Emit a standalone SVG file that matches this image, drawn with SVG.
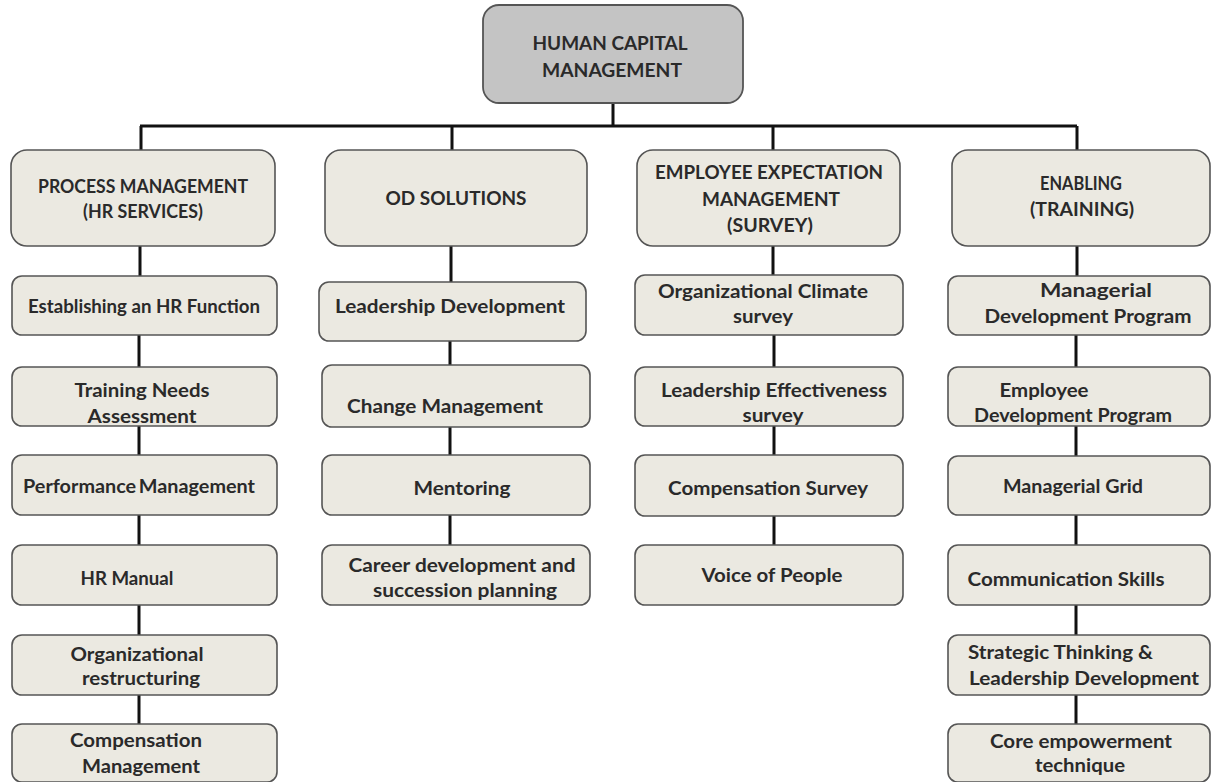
<svg xmlns="http://www.w3.org/2000/svg" width="1211" height="782" viewBox="0 0 1211 782">
<style>
.bg{fill:#ffffff}
.box{fill:#ebe9e1;stroke:#555555;stroke-width:1.6}
.top{fill:#c4c4c4;stroke:#555555;stroke-width:1.8}
.ln{stroke:#111111;stroke-width:3;fill:none}
text{font-family:Lato,"Open Sans","Liberation Sans",sans-serif;font-weight:bold;font-size:18px;fill:#2a2a2a;text-anchor:middle}
.st{text-anchor:start}
</style>
<rect class="bg" width="1211" height="782"/>
<g id="connectors">
<path class="ln" d="M613 103V126M140 126H1077M141 126V150M452 126V150M773 126V150M1077 126V150"/>
<path class="ln" d="M140 246V276M139 335V367M139 426V455M139 515V545M139 605V635M139 695V724"/>
<path class="ln" d="M451 246V282M450 341V365M450 427V455M450 515V545"/>
<path class="ln" d="M773 246V275M774 335V367M774 426V455M774 516V545"/>
<path class="ln" d="M1077 246V276M1076 335V367M1076 426V456M1076 515V545M1076 605V635M1076 695V724"/>
</g>
<g id="hcm"><rect class="top" x="483" y="5" width="260" height="98" rx="16"/><text x="610" y="50" textLength="155" lengthAdjust="spacingAndGlyphs">HUMAN CAPITAL</text><text x="612" y="77" textLength="140" lengthAdjust="spacingAndGlyphs">MANAGEMENT</text></g>

<g id="process"><rect class="box" x="11" y="150" width="264" height="96" rx="16"/><text x="143" y="193" textLength="210" lengthAdjust="spacingAndGlyphs">PROCESS MANAGEMENT</text><text x="143" y="218" textLength="120" lengthAdjust="spacingAndGlyphs">(HR SERVICES)</text></g>
<g id="p1"><rect class="box" x="12" y="276" width="265" height="59" rx="10"/><text x="144" y="313" textLength="232" lengthAdjust="spacingAndGlyphs">Establishing an HR Function</text></g>
<g id="p2"><rect class="box" x="12" y="367" width="265" height="59" rx="10"/><text x="142" y="397" textLength="135" lengthAdjust="spacingAndGlyphs">Training Needs</text><text x="142" y="423" textLength="109" lengthAdjust="spacingAndGlyphs">Assessment</text></g>
<g id="p3"><rect class="box" x="12" y="455" width="265" height="60" rx="10"/><text x="139" y="493" textLength="232" lengthAdjust="spacingAndGlyphs" word-spacing="-2">Performance Management</text></g>
<g id="p4"><rect class="box" x="12" y="545" width="265" height="60" rx="10"/><text x="127" y="585" textLength="93" lengthAdjust="spacingAndGlyphs">HR Manual</text></g>
<g id="p5"><rect class="box" x="12" y="635" width="265" height="60" rx="10"/><text x="137" y="661" textLength="133" lengthAdjust="spacingAndGlyphs">Organizational</text><text x="141" y="685" textLength="118" lengthAdjust="spacingAndGlyphs">restructuring</text></g>
<g id="p6"><rect class="box" x="12" y="724" width="265" height="58" rx="10"/><text x="136" y="747" textLength="132" lengthAdjust="spacingAndGlyphs">Compensation</text><text x="141" y="773" textLength="118" lengthAdjust="spacingAndGlyphs">Management</text></g>

<g id="od"><rect class="box" x="325" y="150" width="262" height="96" rx="16"/><text x="456" y="205" textLength="141" lengthAdjust="spacingAndGlyphs">OD SOLUTIONS</text></g>
<g id="o1"><rect class="box" x="319" y="282" width="267" height="59" rx="10"/><text x="450" y="313" textLength="230" lengthAdjust="spacingAndGlyphs">Leadership Development</text></g>
<g id="o2"><rect class="box" x="322" y="365" width="268" height="62" rx="10"/><text x="445" y="413" textLength="196" lengthAdjust="spacingAndGlyphs">Change Management</text></g>
<g id="o3"><rect class="box" x="322" y="455" width="268" height="60" rx="10"/><text x="462" y="495" textLength="97" lengthAdjust="spacingAndGlyphs">Mentoring</text></g>
<g id="o4"><rect class="box" x="322" y="545" width="268" height="60" rx="10"/><text x="462" y="572" textLength="227" lengthAdjust="spacingAndGlyphs">Career development and</text><text x="465" y="597" textLength="184" lengthAdjust="spacingAndGlyphs">succession planning</text></g>

<g id="eem"><rect class="box" x="637" y="150" width="263" height="96" rx="16"/><text x="769" y="179" textLength="228" lengthAdjust="spacingAndGlyphs">EMPLOYEE EXPECTATION</text><text x="771" y="206" textLength="138" lengthAdjust="spacingAndGlyphs">MANAGEMENT</text><text x="770" y="232" textLength="86" lengthAdjust="spacingAndGlyphs">(SURVEY)</text></g>
<g id="e1"><rect class="box" x="635" y="275" width="268" height="60" rx="10"/><text x="763" y="298" textLength="210" lengthAdjust="spacingAndGlyphs">Organizational Climate</text><text x="763" y="323" textLength="60" lengthAdjust="spacingAndGlyphs">survey</text></g>
<g id="e2"><rect class="box" x="635" y="367" width="268" height="59" rx="10"/><text x="774" y="397" textLength="226" lengthAdjust="spacingAndGlyphs">Leadership Effectiveness</text><text x="773" y="422" textLength="61" lengthAdjust="spacingAndGlyphs">survey</text></g>
<g id="e3"><rect class="box" x="635" y="455" width="268" height="61" rx="10"/><text x="768" y="495" textLength="200" lengthAdjust="spacingAndGlyphs">Compensation Survey</text></g>
<g id="e4"><rect class="box" x="635" y="545" width="268" height="60" rx="10"/><text x="772" y="582" textLength="141" lengthAdjust="spacingAndGlyphs">Voice of People</text></g>

<g id="enabling"><rect class="box" x="952" y="150" width="258" height="96" rx="16"/><text x="1081" y="190" textLength="82" lengthAdjust="spacingAndGlyphs">ENABLING</text><text x="1082" y="216" textLength="104" lengthAdjust="spacingAndGlyphs">(TRAINING)</text></g>
<g id="n1"><rect class="box" x="948" y="276" width="262" height="59" rx="10"/><text x="1096" y="297" textLength="112" lengthAdjust="spacingAndGlyphs">Managerial</text><text x="1088" y="323" textLength="207" lengthAdjust="spacingAndGlyphs">Development Program</text></g>
<g id="n2"><rect class="box" x="948" y="367" width="262" height="59" rx="10"/><text x="1044" y="397" textLength="89" lengthAdjust="spacingAndGlyphs">Employee</text><text x="1073" y="422" textLength="198" lengthAdjust="spacingAndGlyphs">Development Program</text></g>
<g id="n3"><rect class="box" x="948" y="456" width="262" height="59" rx="10"/><text x="1073" y="493" textLength="140" lengthAdjust="spacingAndGlyphs">Managerial Grid</text></g>
<g id="n4"><rect class="box" x="948" y="545" width="262" height="60" rx="10"/><text x="1066" y="586" textLength="197" lengthAdjust="spacingAndGlyphs">Communication Skills</text></g>
<g id="n5"><rect class="box" x="948" y="635" width="262" height="60" rx="10"/><text class="st" x="968" y="659" textLength="185" lengthAdjust="spacingAndGlyphs">Strategic Thinking &amp;</text><text class="st" x="969" y="685" textLength="230" lengthAdjust="spacingAndGlyphs">Leadership Development</text></g>
<g id="n6"><rect class="box" x="948" y="724" width="262" height="58" rx="10"/><text x="1081" y="748" textLength="182" lengthAdjust="spacingAndGlyphs">Core empowerment</text><text x="1080" y="772" textLength="90" lengthAdjust="spacingAndGlyphs">technique</text></g>
</svg>
